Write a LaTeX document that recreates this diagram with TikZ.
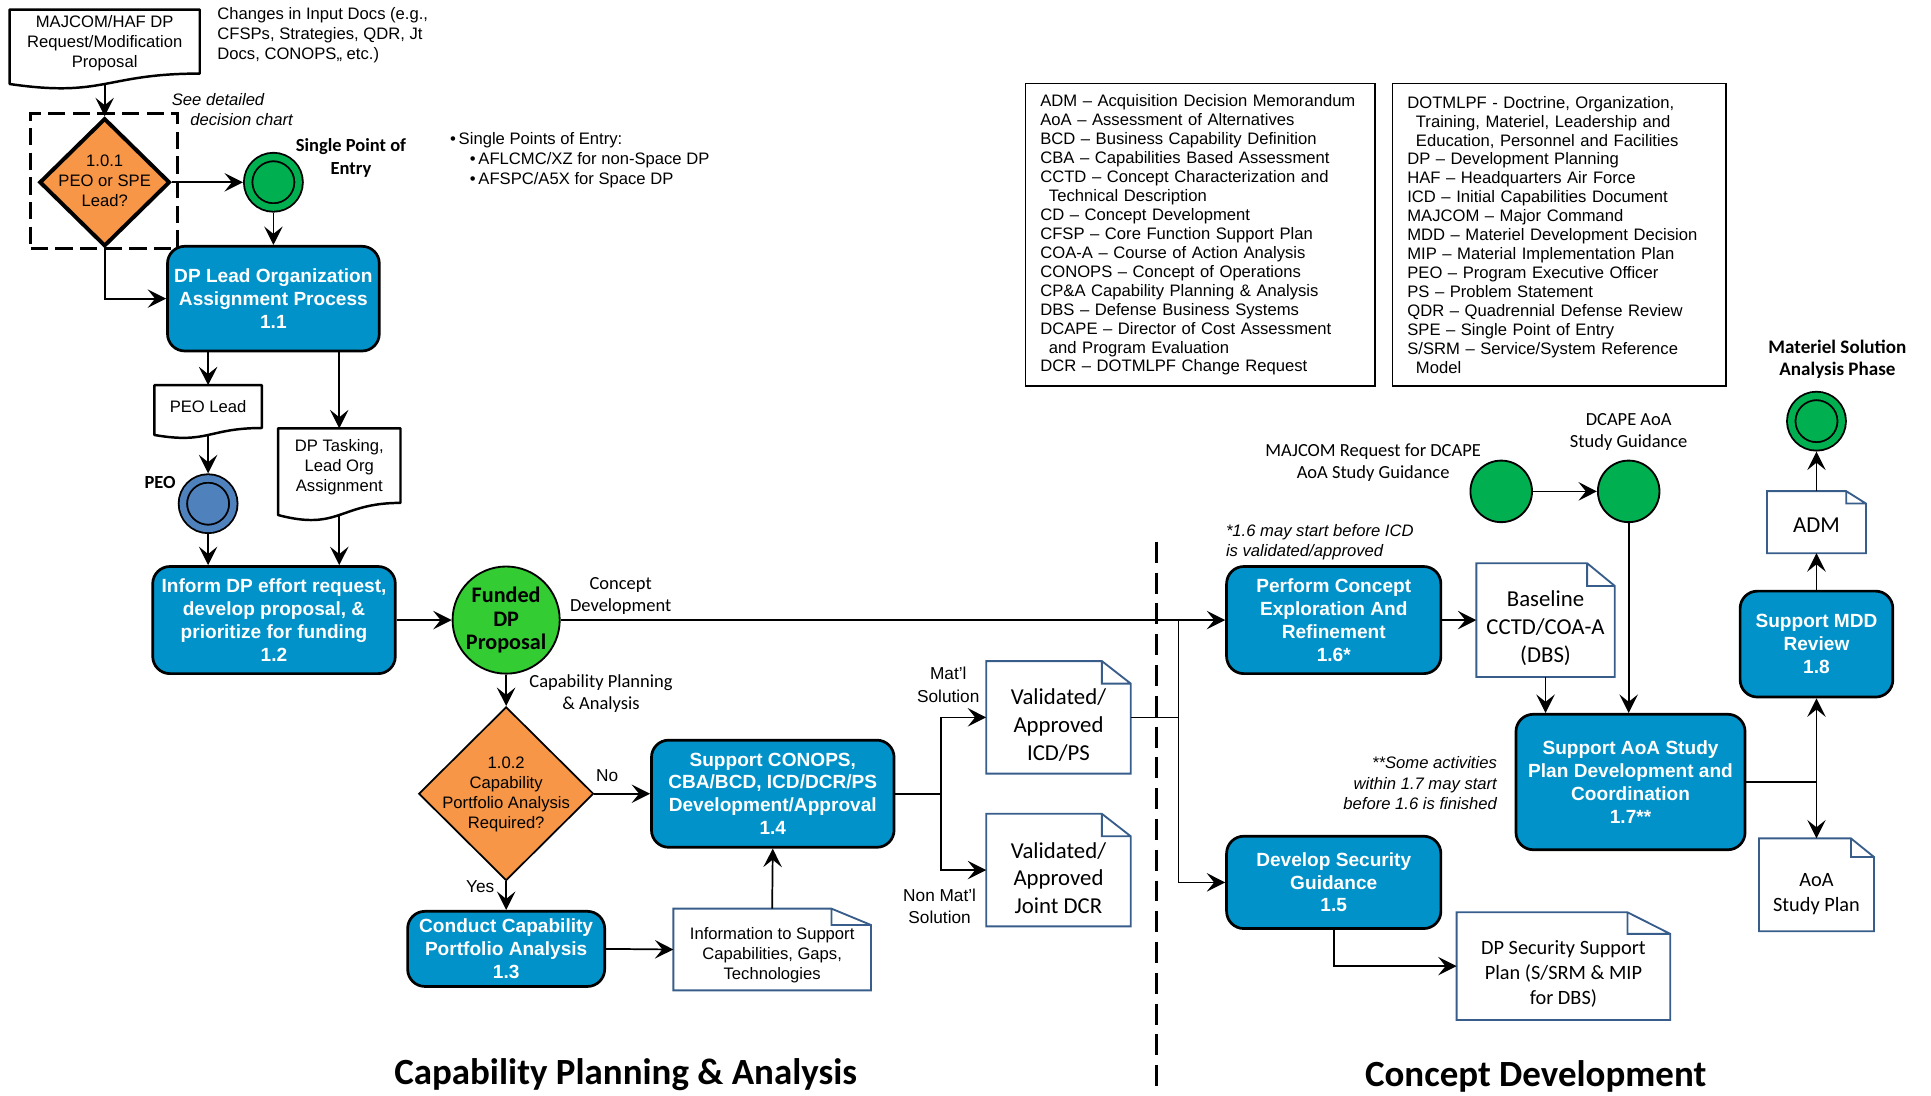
\documentclass[tikz,border=0pt]{standalone}
\usepackage{fontspec}
\setmainfont{Liberation Sans}
\newfontfamily\calib{Carlito}
\usetikzlibrary{positioning}
\usetikzlibrary{calc}
\usetikzlibrary{arrows.meta}
\usetikzlibrary{shapes.geometric}
\definecolor{pblue}{RGB}{0,146,200}
\definecolor{dorange}{RGB}{247,150,70}
\definecolor{sgreen}{RGB}{0,176,80}
\definecolor{fgreen}{RGB}{51,204,51}
\definecolor{peoblue}{RGB}{79,129,189}
\definecolor{docblue}{RGB}{56,93,138}
\newcommand{\fsz}[2]{\fontsize{#1}{#2}\selectfont}
\newcommand{\nosize}[2][0pt]{\makebox[0pt]{\smash{\raisebox{\dimexpr-0.3em-#1\relax}{\begin{tabular}{@{}c@{}}#2\end{tabular}}}}}

\tikzset{
  >={Stealth[length=15pt,width=15pt,inset=6pt]},
  flow/.style={->, line width=1.4},
  process/.style={rectangle, rounded corners=14pt, draw, line width=2.2pt, fill=pblue,
    text=white, align=center, inner sep=0pt, font=\bfseries\fsz{15.5}{18.5}},
  decide/.style={diamond, draw, fill=dorange, inner sep=0pt, font=\fsz{13.5}{16.2}},
  entry/.style={circle, draw, line width=1.5pt, double distance=5.3pt, minimum size=41pt,
    inner sep=0pt, outer sep=4.2pt},
  event/.style={circle, draw, line width=1.5pt, fill=sgreen, minimum size=50pt, inner sep=0pt},
  wavedoc/.style={align=center, inner sep=0pt, font=\fsz{13.5}{16.2},
    append after command={\pgfextra{\pgfinterruptpath
      \draw[line width=2pt, line join=round]
      (\tikzlastnode.north west) -- (\tikzlastnode.north east)
      -- ($(\tikzlastnode.north east)!0.86!(\tikzlastnode.south east)$)
      .. controls ($(\tikzlastnode.north)!0.86!(\tikzlastnode.south)$)
      and ($(\tikzlastnode.north)!1.187!(\tikzlastnode.south)$)
      .. (\tikzlastnode.south west) -- cycle;
      \endpgfinterruptpath}}},
  pagedoc/.style={align=center, inner sep=0pt, font=\calib\fsz{18.5}{22.5},
    append after command={\pgfextra{\pgfinterruptpath
      \draw[docblue, line width=1.5pt]
      (\tikzlastnode.north west)
      -- ($(\tikzlastnode.north east)!0.2!(\tikzlastnode.north west)$)
      -- ($(\tikzlastnode.north east)!0.2!(\tikzlastnode.south east)$)
      -- (\tikzlastnode.south east) -- (\tikzlastnode.south west) -- cycle
      ($(\tikzlastnode.north east)!0.2!(\tikzlastnode.north west)$)
      |- ($(\tikzlastnode.north east)!0.2!(\tikzlastnode.south east)$);
      \endpgfinterruptpath}}},
  note/.style={font=\itshape\fsz{13.5}{16.5}},
  tag/.style={font=\calib\fsz{15}{17.6}, align=center},
  legend/.style={draw, line width=1.5pt, align=left, anchor=north west, inner xsep=12pt,
    inner ysep=4pt, minimum height=246pt, font=\fsz{13.5}{15.4}}
}

\begin{document}
\begin{tikzpicture}[x=1pt, y=-1pt]
      \useasboundingbox (0,0) rectangle (1568,889.2);
      \node[wavedoc, minimum width=154pt, minimum height=60pt] (docReq) at (85,38) {\nosize[-3pt]{MAJCOM/HAF DP\\Request/Modification\\Proposal}};
      \node[anchor=west, align=left, font=\fsz{13.5}{16.5}] (changes) at (173,28.5) {Changes in Input Docs (e.g.,\\CFSPs, Strategies, QDR, Jt\\Docs, CONOPS,, etc.)};
      \node[draw, line width=2.7pt, dash pattern=on 14pt off 6pt, minimum width=119pt, minimum height=110pt] (dchart) at (84.5,147) {};
      \node[decide, line width=3.2pt, minimum width=106pt, minimum height=104pt] (d101) at (85,148) {\nosize{1.0.1\\PEO or SPE\\Lead?}};
      \node[note, anchor=west, align=left, font=\itshape\fsz{13.5}{16}] (seechart) at (136,89) {See detailed\\\hspace*{15pt}decision chart};
      \node[entry, fill=sgreen, double=sgreen] (spe) at (222,148) {};
      \node[font=\calib\bfseries\fsz{15}{19}, align=center] (lblSPE) at (285,128.5) {Single Point of\\Entry};
      \node[anchor=west, align=left, font=\fsz{13.5}{16}] (spelist) at (362,130) {\textbullet\,Single Points of Entry:\\\hspace*{16pt}\textbullet\,AFLCMC/XZ  for non-Space DP\\\hspace*{16pt}\textbullet\,AFSPC/A5X for Space DP};
      \node[process, minimum width=172pt, minimum height=85pt] (p11) at (222,242.5) {DP Lead Organization\\Assignment Process\\1.1};
      \node[wavedoc, minimum width=87pt, minimum height=40pt] (docPEOL) at (169,333) {\nosize[-2pt]{PEO Lead}};
      \node[wavedoc, minimum width=99pt, minimum height=70pt] (docTask) at (275.5,383) {\nosize[-4pt]{DP Tasking,\\Lead Org\\Assignment}};
      \node[entry, fill=peoblue, double=peoblue] (peo) at (169,409) {};
      \node[font=\calib\bfseries\fsz{15}{19}] (lblPEO) at (130,392) {PEO};
      \node[process, minimum width=197pt, minimum height=87pt] (p12) at (222.5,503.5) {Inform DP effort request,\\develop proposal, \&\\prioritize for funding\\1.2};
      \node[circle, draw, line width=1.5pt, fill=fgreen, minimum size=87pt, inner sep=0pt, font=\calib\bfseries\fsz{18}{18.7}] (funded) at (411,503.5) {\nosize{Funded\\DP\\Proposal}};
      \node[tag] (lblCD) at (504,484) {Concept\\Development};
      \node[tag] (lblCPA) at (488,563) {Capability Planning\\\& Analysis};
      \node[decide, line width=1.4pt, minimum width=142pt, minimum height=141pt] (d102) at (411,644.5) {\nosize{1.0.2\\Capability\\Portfolio Analysis\\Required?}};
      \node[font=\fsz{14}{17}] (lblNo) at (493,630) {No};
      \node[font=\fsz{14}{17}] (lblYes) at (390,720) {Yes};
      \node[process, minimum width=160pt, minimum height=61pt] (p13) at (411,770.5) {Conduct Capability\\Portfolio Analysis\\1.3};
      \node[pagedoc, font=\fsz{13.5}{16.5}, minimum width=160pt, minimum height=66pt] (docInfo) at (627,771) {\nosize[4.5pt]{Information to Support\\Capabilities, Gaps,\\Technologies}};
      \node[process, minimum width=197pt, minimum height=87pt] (p14) at (627.5,644.5) {Support CONOPS,\\CBA/BCD, ICD/DCR/PS\\Development/Approval\\1.4};
      \node[pagedoc, minimum width=117pt, minimum height=91pt] (docICD) at (859.5,582.5) {\nosize[6.5pt]{Validated/\\Approved\\ICD/PS}};
      \node[pagedoc, minimum width=117pt, minimum height=91pt] (docDCR) at (859.5,706.5) {\nosize[7pt]{Validated/\\Approved\\Joint DCR}};
      \node[align=center, font=\fsz{14}{19}] (lblMat) at (770,556) {Mat’l\\Solution};
      \node[align=center, font=\fsz{14}{18}] (lblNon) at (763,736) {Non Mat’l\\Solution};
      \node[legend, text width=260pt] (abbr1) at (832,67) {ADM -- Acquisition Decision Memorandum\\AoA -- Assessment of Alternatives\\BCD -- Business Capability Definition\\CBA -- Capabilities Based Assessment\\CCTD -- Concept Characterization and\\\hspace*{7pt}Technical Description\\CD -- Concept Development\\CFSP -- Core Function Support Plan\\COA-A -- Course of Action Analysis\\CONOPS -- Concept of Operations\\CP\&A Capability Planning \& Analysis\\DBS -- Defense Business Systems\\DCAPE -- Director of Cost Assessment\\\hspace*{7pt}and Program Evaluation\\DCR -- DOTMLPF Change Request};
      \node[legend, text width=247pt] (abbr2) at (1130,67) {DOTMLPF - Doctrine, Organization,\\\hspace*{7pt}Training, Materiel, Leadership and\\\hspace*{7pt}Education, Personnel and Facilities\\DP -- Development Planning\\HAF -- Headquarters Air Force\\ICD -- Initial Capabilities Document\\MAJCOM -- Major Command\\MDD -- Materiel Development Decision\\MIP -- Material Implementation Plan\\PEO -- Program Executive Officer\\PS -- Problem Statement\\QDR -- Quadrennial Defense Review\\SPE -- Single Point of Entry\\S/SRM -- Service/System Reference\\\hspace*{7pt}Model};
      \node[note, anchor=west, align=left] (note16) at (992,440.5) {*1.6 may start before ICD\\is validated/approved};
      \node[process, minimum width=174pt, minimum height=87pt] (p16) at (1083,503.5) {Perform Concept\\Exploration And\\Refinement\\1.6*};
      \node[process, minimum width=174pt, minimum height=75pt] (p15) at (1083,716.5) {Develop Security\\Guidance\\1.5};
      \node[pagedoc, minimum width=112pt, minimum height=92pt] (docBase) at (1255,503.5) {\nosize[6pt]{Baseline\\CCTD/COA-A\\(DBS)}};
      \node[event] (mreq) at (1219,399) {};
      \node[event] (dcape) at (1322.5,399) {};
      \node[tag] (lblMreq) at (1115,375.5) {MAJCOM Request for DCAPE\\AoA Study Guidance};
      \node[tag, above=4pt of dcape] (lblDcape) {DCAPE AoA\\Study Guidance};
      \node[process, minimum width=186pt, minimum height=110pt] (p17) at (1324,635) {Support AoA Study\\Plan Development and\\Coordination\\1.7**};
      \node[note, anchor=east, align=right] (note17) at (1219,636) {**Some activities\\within 1.7 may start\\before 1.6 is finished};
      \node[process, minimum width=124pt, minimum height=86pt] (p18) at (1475,523) {Support MDD\\Review\\1.8};
      \node[pagedoc, minimum width=80pt, minimum height=50pt] (docADM) at (1475,424) {\nosize[2.5pt]{ADM}};
      \node[entry, fill=sgreen, double=sgreen] (msa) at (1475,342) {};
      \node[font=\calib\bfseries\fsz{15.5}{17.6}, align=center] (lblMSA) at (1492,291.5) {Materiel Solution\\Analysis Phase};
      \node[pagedoc, font=\calib\fsz{16.5}{20.3}, minimum width=93pt, minimum height=75pt] (docAoA) at (1475,718.5) {\nosize[6.5pt]{AoA\\Study Plan}};
      \node[pagedoc, font=\calib\fsz{16.5}{20.3}, minimum width=173pt, minimum height=87pt] (docSec) at (1269.5,784.5) {\nosize[6.5pt]{DP Security Support\\Plan (S/SRM \& MIP\\for DBS)}};
      \node[font=\calib\bfseries\fsz{30}{36}] (ttlCPA) at (508,873) {Capability Planning \& Analysis};
      \node[font=\calib\bfseries\fsz{30}{36}] (ttlCD) at (1247,874) {Concept Development};
      \coordinate[right=37pt of p14.east] (j14);
      \coordinate (j16) at (957,503.5);
      \coordinate (j18) at (p18.south |- p17.east);
      \draw [line width=2.4, dash pattern=on 17pt off 8pt] (939,440) -- (939,889.2);
      \draw [flow] (docReq.south) -- (d101.north);
      \draw [flow] (d101.east) -- (spe.west);
      \draw [flow] (spe.south) -- (spe.south |- p11.north);
      \draw [flow] (d101.south) |- (p11.west);
      \draw [flow] (docPEOL.north |- p11.south) -- (docPEOL.north);
      \draw [flow] (docTask.north |- p11.south) -- (docTask.north);
      \draw [flow] (docPEOL.south) -- (peo.north);
      \draw [flow] (peo.south) -- (peo.south |- p12.north);
      \draw [flow] (docTask.south) -- (docTask.south |- p12.north);
      \draw [flow] (p12.east) -- (funded.west);
      \draw [flow] (funded.east) -- (p16.west);
      \draw [flow] (funded.south) -- (d102.north);
      \draw [flow] (d102.east) -- (p14.west);
      \draw [flow] (d102.south) -- (p13.north);
      \draw [flow] (p13.east) -- (docInfo.west);
      \draw [flow] (docInfo.north) -- (p14.south);
      \draw [flow] (p14.east) -- (j14) |- (docICD.west);
      \draw [flow] (j14) |- (docDCR.west);
      \draw [line width=1.4] (docICD.east) -- (docICD.east -| j16);
      \draw [flow] (j16) |- (p15.west);
      \draw [flow] (p16.east) -- (docBase.west);
      \draw [flow] (mreq.east) -- (dcape.west);
      \draw [flow] (docBase.south) -- (docBase.south |- p17.north);
      \draw [flow] (dcape.south) -- (dcape.south |- p17.north);
      \draw [line width=1.4] (p17.east) -- (j18);
      \draw [flow] (j18) -- (p18.south);
      \draw [flow] (j18) -- (docAoA.north);
      \draw [flow] (p18.north) -- (docADM.south);
      \draw [flow] (docADM.north) -- (msa.south);
      \draw [flow] (p15.south) |- (docSec.west);
    \end{tikzpicture}
\end{document}
